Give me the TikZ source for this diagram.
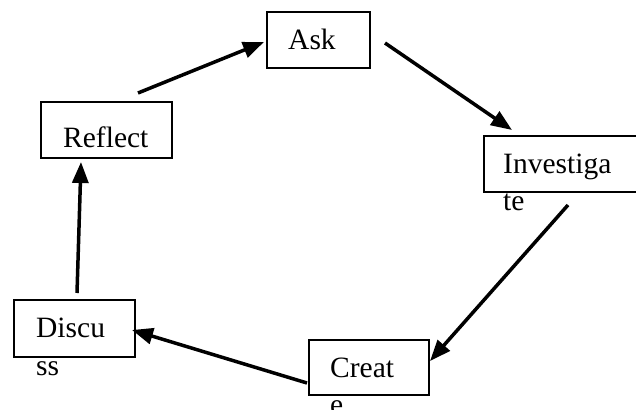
\documentclass[tikz,border=0pt]{standalone}
\usepackage{fontspec}
\setmainfont{Liberation Serif}
\usetikzlibrary{arrows.meta}
\begin{document}
\begin{tikzpicture}[x=1pt,y=-1pt,
  box/.style={draw=black,line width=1.3pt,inner sep=0pt},
  lbl/.style={anchor=base west,inner sep=0pt,font=\fontsize{29.5}{37}\selectfont},
  arr/.style={line width=3.5pt,-{Triangle[length=21pt,width=16pt]}}]
\useasboundingbox (0,0) rectangle (636,409);
\clip (0,0) rectangle (636,409);
\fill[white] (0,0) rectangle (636,409);
% boxes
\node[box,minimum width=103pt,minimum height=56pt] (ask) at (318.5,40) {};
\node[box,minimum width=131pt,minimum height=56pt] (reflect) at (106.5,130) {};
\node[box,minimum width=160pt,minimum height=56pt] (inv) at (564,164) {};
\node[box,minimum width=121pt,minimum height=57pt] (disc) at (74.5,328.5) {};
\node[box,minimum width=120pt,minimum height=55pt] (create) at (369,367.5) {};
% labels
\node[lbl] (tAsk) at (288,50) {Ask};
\node[lbl] (tRef) at (63,147) {Reflect};
\node[lbl] (tInv1) at (503,173) {Investiga};
\node[lbl] (tInv2) at (503,210) {te};
\node[lbl] (tDis1) at (36,337) {Discu};
\node[lbl] (tDis2) at (36,375) {ss};
\node[lbl] (tCre1) at (330,377) {Creat};
\node[lbl] (tCre2) at (330,414) {e};
% connector ends
\coordinate (a1) at (385,43);
\coordinate (a2) at (512,130);
\coordinate (b1) at (568,205);
\coordinate (b2) at (430,361);
\coordinate (c1) at (307,383);
\coordinate (c2) at (132,330);
\coordinate (d1) at (77,293);
\coordinate (d2) at (81,162);
\coordinate (e1) at (138,93);
\coordinate (e2) at (264,42);
\draw[arr] (a1) -- (a2);
\draw[arr] (b1) -- (b2);
\draw[arr] (c1) -- (c2);
\draw[arr] (d1) -- (d2);
\draw[arr] (e1) -- (e2);
\end{tikzpicture}
\end{document}
